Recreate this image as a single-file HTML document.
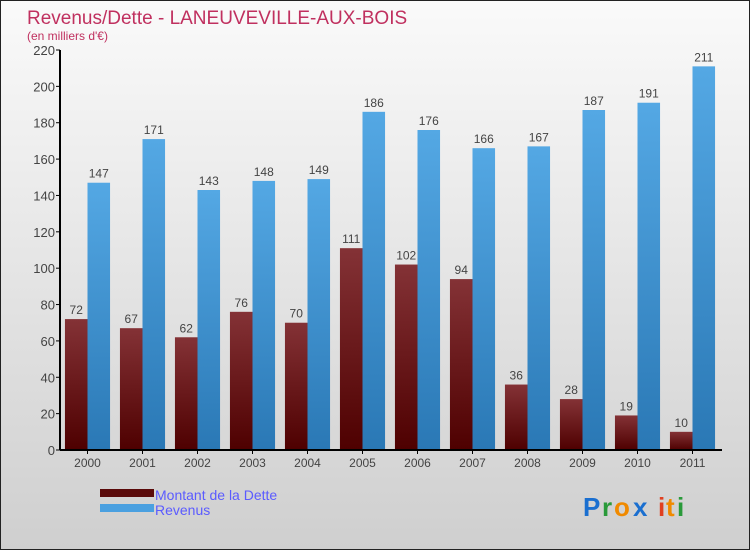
<!DOCTYPE html>
<html><head><meta charset="utf-8"><style>
body{margin:0}
#c{width:748px;height:548px;border:1px solid #222;background:linear-gradient(#fafafa,#cfcfcf);position:relative;font-family:"Liberation Sans",sans-serif;overflow:hidden}
</style></head><body>
<div id="c">
<svg id="s" width="748" height="548" xmlns="http://www.w3.org/2000/svg">
<defs>
<linearGradient id="gd" x1="0" y1="0" x2="0" y2="1"><stop offset="0" stop-color="#843236"/><stop offset="1" stop-color="#4e0000"/></linearGradient>
<linearGradient id="gr" x1="0" y1="0" x2="0" y2="1"><stop offset="0" stop-color="#54a8e4"/><stop offset="1" stop-color="#2a78b5"/></linearGradient>
</defs>
<text x="26" y="23" font-size="19" fill="#c0305f">Revenus/Dette - LANEUVEVILLE-AUX-BOIS</text>
<text x="26" y="39" font-size="12" fill="#c0305f">(en milliers d'€)</text>
<g id="bars"></g>
<rect x="99" y="488" width="54" height="8" fill="#5a0a0a"/>
<text x="154" y="499" font-size="14" fill="#5b5bff">Montant de la Dette</text>
<rect x="99" y="503" width="54" height="8" fill="#4aa0e0"/>
<text x="154" y="514" font-size="14" fill="#5b5bff">Revenus</text>
<g font-size="26" font-weight="bold">
<text x="582" y="515" fill="#1a6fd0">P</text><text x="601" y="515" fill="#2a9a3a">r</text><text x="613" y="515" fill="#f08a00">o</text><text x="632" y="515" fill="#1a6fd0">x</text><text x="657" y="515" fill="#e04020">i</text><text x="665" y="515" fill="#f08a00">t</text><text x="676" y="515" fill="#2a9a3a">i</text>
</g>
</svg>
</div>
<script>
const years=["2000","2001","2002","2003","2004","2005","2006","2007","2008","2009","2010","2011"];
const dette=[72,67,62,76,70,111,102,94,36,28,19,10];
const revenus=[147,171,143,148,149,186,176,166,167,187,191,211];
const yTicks=[0,20,40,60,80,100,120,140,160,180,200,220];
const NS="http://www.w3.org/2000/svg";
const g=document.getElementById('bars');
const x0=59,x1=719,y0=449,y1=49,yMax=220;
const band=(x1-x0)/years.length;
const y=v=>y0-(v/yMax)*(y0-y1);
function mk(t,a){const e=document.createElementNS(NS,t);for(const k in a)e.setAttribute(k,a[k]);g.appendChild(e);return e;}
yTicks.forEach(v=>{
 const l=mk('line',{x1:x0-4,x2:x0,y1:y(v),y2:y(v),stroke:'#000'});
 
 
 const t=mk('text',{x:x0-5,y:y(v)+5,'text-anchor':'end','font-size':13,fill:'#444'});
 t.textContent=v;
 
 
});
years.forEach((yr,i)=>{
 const gx=x0+i*band, bw=band*0.41, off=band*0.09;
 const d=mk('rect',{x:gx+off,y:y(dette[i]),width:bw,height:y0-y(dette[i]),fill:'url(#gd)'});
 
 
 const r=mk('rect',{x:gx+off+bw,y:y(revenus[i]),width:bw,height:y0-y(revenus[i]),fill:'url(#gr)'});
 
 
 const td=mk('text',{x:gx+off+bw/2,y:y(dette[i])-5,'text-anchor':'middle','font-size':12,fill:'#444'});
 td.textContent=dette[i];
 
 
 const tr=mk('text',{x:gx+off+bw*1.5,y:y(revenus[i])-5,'text-anchor':'middle','font-size':12,fill:'#444'});
 tr.textContent=revenus[i];
 
 
 const tk=mk('line',{x1:gx+band/2,x2:gx+band/2,y1:y0,y2:y0+4,stroke:'#000'});
 
 
 const tx=mk('text',{x:gx+band/2,y:y0+17,'text-anchor':'middle','font-size':12,fill:'#444'});
 tx.textContent=yr;
 
 
});
const ya=mk('line',{x1:x0,x2:x0,y1:y1,y2:y0,stroke:'#000','stroke-width':2});


const xa=mk('line',{x1:x0,x2:x1+2,y1:y0,y2:y0,stroke:'#000','stroke-width':2});


</script>
</body></html>
